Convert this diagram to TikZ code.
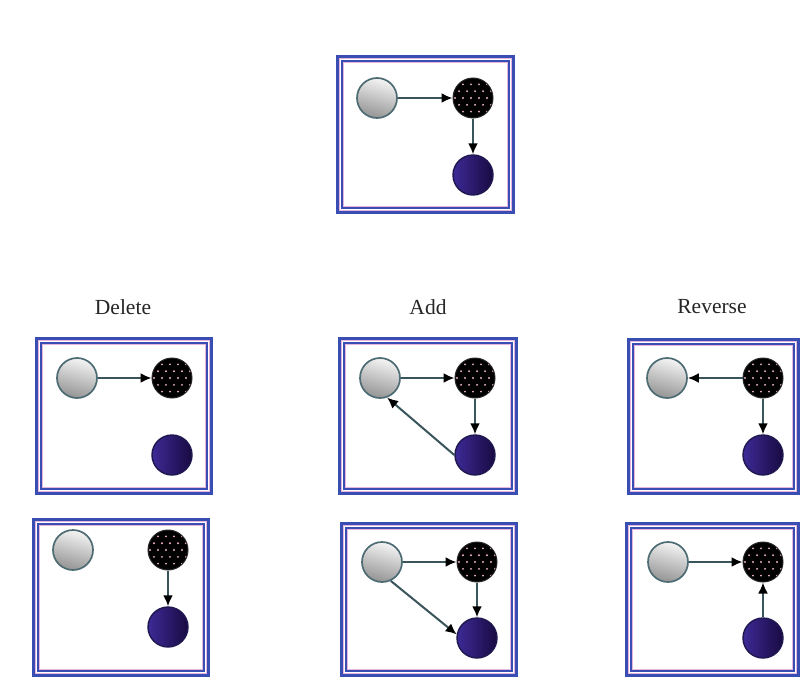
\documentclass[tikz,border=0pt]{standalone}
\usepackage{fontspec}
\setmainfont{Liberation Serif}
\usetikzlibrary{arrows.meta}
\definecolor{frameblue}{RGB}{56,78,178}
\definecolor{framepink}{RGB}{230,180,220}
\definecolor{edgecol}{RGB}{58,84,92}
\definecolor{grayrim}{RGB}{78,108,116}
\definecolor{navyL}{RGB}{62,42,150}
\definecolor{navyR}{RGB}{24,10,66}
\definecolor{navyrim}{RGB}{30,24,80}
\definecolor{dotcol}{RGB}{240,180,190}
\newcommand\dframe[4]{%
  \draw[frameblue,line width=3pt] (#1+1.5,#2+1.5) rectangle (#3-1.5,#4-1.5);
  \draw[framepink,line width=0.8pt] (#1+3.4,#2+3.4) rectangle (#3-3.4,#4-3.4);
  \draw[frameblue,line width=2pt] (#1+6,#2+6) rectangle (#3-6,#4-6);
  \draw[framepink,line width=0.8pt] (#1+7.6,#2+7.6) rectangle (#3-7.6,#4-7.6);
}
\tikzset{
  gnode/.style={circle,minimum size=40pt,inner sep=0pt,draw=grayrim,line width=1.7pt,
    shading=axis,top color=white!96!black,bottom color=black!42,shading angle=-15},
  bnode/.style={circle,minimum size=40pt,inner sep=0pt,draw=black!85,line width=1pt,fill=black,
    path picture={
      \foreach \r in {-2,...,2}{
        \foreach \c in {-2,...,2}{
          \pgfmathsetmacro\xx{\c*8+mod(abs(\r),2)*4-2}
          \pgfmathsetmacro\yy{\r*6.8}
          \fill[dotcol] ([shift={(\xx pt,\yy pt)}]path picture bounding box.center) circle (1.05pt);
        }
      }
    }},
  nnode/.style={circle,minimum size=40pt,inner sep=0pt,draw=navyrim,line width=1.4pt,
    left color=navyL,right color=navyR},
  arr/.style={draw=edgecol,line width=2pt,-{Latex[length=11pt,width=10pt,fill=black,color=black]}},
  lbl/.style={font=\fontsize{21.5}{25}\selectfont,text=black!85}
}
\begin{document}
\begin{tikzpicture}[x=1pt,y=-1pt]
\useasboundingbox[fill=white] (0,0) rectangle (801,680);
% frames
\dframe{336}{55}{515}{214}
\dframe{35}{337}{213}{495}
\dframe{338}{337}{518}{495}
\dframe{627}{338}{800}{495}
\dframe{32}{518}{210}{677}
\dframe{340}{522}{518}{677}
\dframe{625}{522}{800}{677}
% labels
\node[lbl] (ldel) at (123,307) {Delete};
\node[lbl] (ladd) at (428,307) {Add};
\node[lbl] (lrev) at (712,307) {Reverse};
% top
\node[gnode] (tg) at (377,98) {};
\node[bnode] (tb) at (473,98) {};
\node[nnode] (tn) at (473,175) {};
\draw[arr] (tg) -- (tb);
\draw[arr] (tb) -- (tn);
% delete 1
\node[gnode] (d1g) at (77,378) {};
\node[bnode] (d1b) at (172,378) {};
\node[nnode] (d1n) at (172,455) {};
\draw[arr] (d1g) -- (d1b);
% add 1
\node[gnode] (a1g) at (380,378) {};
\node[bnode] (a1b) at (475,378) {};
\node[nnode] (a1n) at (475,455) {};
\draw[arr] (a1g) -- (a1b);
\draw[arr] (a1b) -- (a1n);
\draw[arr] (a1n.west) -- (a1g.-70);
% reverse 1
\node[gnode] (r1g) at (667,378) {};
\node[bnode] (r1b) at (763,378) {};
\node[nnode] (r1n) at (763,455) {};
\draw[arr] (r1b) -- (r1g);
\draw[arr] (r1b) -- (r1n);
% delete 2
\node[gnode] (d2g) at (73,550) {};
\node[bnode] (d2b) at (168,550) {};
\node[nnode] (d2n) at (168,627) {};
\draw[arr] (d2b) -- (d2n);
% add 2
\node[gnode] (a2g) at (382,562) {};
\node[bnode] (a2b) at (477,562) {};
\node[nnode] (a2n) at (477,638) {};
\draw[arr] (a2g) -- (a2b);
\draw[arr] (a2b) -- (a2n);
\draw[arr] (a2g.-65) -- (a2n.170);
% reverse 2
\node[gnode] (r2g) at (668,562) {};
\node[bnode] (r2b) at (763,562) {};
\node[nnode] (r2n) at (763,638) {};
\draw[arr] (r2g) -- (r2b);
\draw[arr] (r2n) -- (r2b);
\end{tikzpicture}
\end{document}
